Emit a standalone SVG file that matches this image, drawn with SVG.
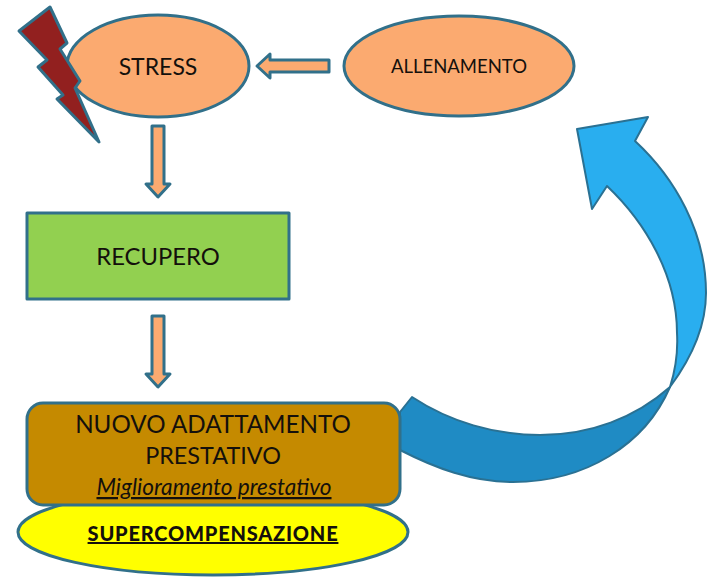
<svg xmlns="http://www.w3.org/2000/svg" width="720" height="584" viewBox="0 0 720 584">
<style>
.s{stroke:#31708a;stroke-width:3;stroke-linejoin:round}
.o{fill:#fbaa70}
.t{font-family:Lato,"Liberation Sans",sans-serif;fill:#14100c;text-anchor:middle}
</style>
<rect width="720" height="584" fill="#fff"/>
<g id="connectors">
<path id="loop-dark" d="M412,397 C450,422 495,435 540,435 C590,435 635,418 670,387 C645,445 585,482 513,482 C472,482 435,468 400,450 L400,412 Z" fill="#1f8bc4" stroke="#2a7193" stroke-width="2" stroke-linejoin="round"/>
<path id="loop-light" d="M577,129 L648,117 L635,141 C675,178 706,232 706,293 C706,328 690,360 670,387 C677,365 678,350 677,333 C677,275 645,222 607,186 L592,209 Z" fill="#29aeef" stroke="#2a7193" stroke-width="2" stroke-linejoin="round"/>
<path id="arrow-allenamento-stress" class="s o" d="M329,60 H270 V54 L257,66 L270,78 V72 H329 Z" stroke-width="2.5"/>
<path id="arrow-stress-recupero" class="s o" d="M152,126 H164 V184 H170 L158,197 L146,184 H152 Z"/>
<path id="arrow-recupero-nuovo" class="s o" d="M152,316 H164 V374 H170 L158,387 L146,374 H152 Z"/>
</g>
<g id="stress">
<ellipse class="s o" cx="158" cy="66" rx="91" ry="51"/>
<text class="t" x="158" y="75" font-size="23">STRESS</text>
</g>
<g id="lightning">
<path class="s" fill="#92201f" d="M50,7 L67,43 L60,49 L80,81 L75,88 L99,142 L57,99 L63,95 L38,67 L47,60 L19,31 Z"/>
</g>
<g id="allenamento">
<ellipse class="s o" cx="459" cy="66" rx="115" ry="50"/>
<text class="t" x="459" y="73" font-size="18.5">ALLENAMENTO</text>
</g>
<g id="recupero">
<rect class="s" x="27" y="213" width="262" height="86" fill="#92d050"/>
<text class="t" x="158" y="265" font-size="23.8">RECUPERO</text>
</g>
<g id="supercompensazione">
<ellipse class="s" cx="213" cy="532" rx="195" ry="43" fill="#ffff00"/>
<text class="t" x="213" y="541" font-size="20" font-weight="900" letter-spacing="0.8" text-decoration="underline">SUPERCOMPENSAZIONE</text>
</g>
<g id="nuovo-adattamento">
<rect class="s" x="27" y="403" width="373" height="102" rx="16" fill="#c58a00"/>
<text class="t" x="213" y="433" font-size="24.2">NUOVO ADATTAMENTO</text>
<text class="t" x="213" y="464" font-size="23.4">PRESTATIVO</text>
<text class="t" x="214" y="495" font-size="22.6" font-style="italic" text-decoration="underline">Miglioramento prestativo</text>
</g>
</svg>
